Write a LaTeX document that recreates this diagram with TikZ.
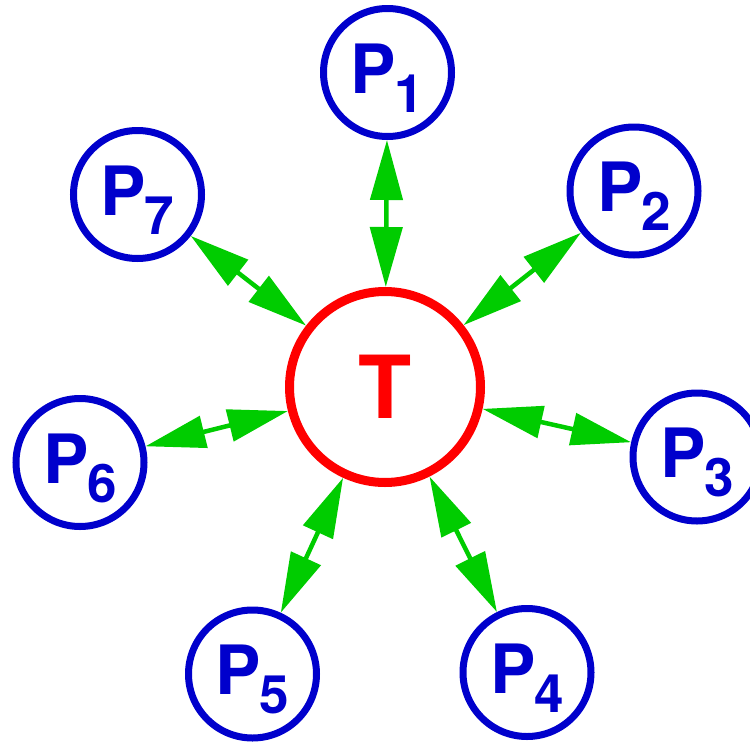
\documentclass[tikz,border=0pt]{standalone}
\usepackage{fontspec}
\setmainfont{TeX Gyre Heros}
\usetikzlibrary{arrows.meta}
\definecolor{pblue}{RGB}{0,0,204}
\definecolor{tred}{RGB}{255,0,0}
\definecolor{lgreen}{RGB}{0,204,0}
\newcommand{\pname}[1]{\fontsize{68}{68}\selectfont P\kern-1pt\fontsize{53}{53}\selectfont\raisebox{-19pt}{#1}}
\tikzset{
  pnode/.style={circle, draw=pblue, line width=7pt, minimum size=128pt, inner sep=0pt,
    text=pblue, font=\bfseries, text height=48pt, text depth=7pt},
  tnode/.style={circle, draw=tred, line width=9pt, minimum size=191pt, inner sep=0pt,
    text=tred, font=\bfseries\fontsize{87}{87}\selectfont},
  link/.style={lgreen, line width=4.5pt,
    {Triangle[length=60pt,width=32pt]}-{Triangle[length=60pt,width=32pt]}},
}
\begin{document}
\begin{tikzpicture}[x=1pt, y=-1pt]
  \useasboundingbox (0,0) rectangle (750,742);
  % centre
  \node[tnode] (t) at (385,387) {T};
  % the seven outer nodes
  \node[pnode] (p1) at (387.5,72.5) {\pname{1}};
  \node[pnode] (p2) at (634,191) {\pname{2}};
  \node[pnode] (p3) at (697,457) {\pname{3}};
  \node[pnode] (p4) at (527,672.5) {\pname{4}};
  \node[pnode] (p5) at (252.5,674) {\pname{5}};
  \node[pnode] (p6) at (80,462.5) {\pname{6}};
  \node[pnode] (p7) at (137.5,194.5) {\pname{7}};
  % links
  \foreach \p in {p1,p2,p3,p4,p5,p6,p7}
    \draw[link] (t) -- (\p);
\end{tikzpicture}
\end{document}
